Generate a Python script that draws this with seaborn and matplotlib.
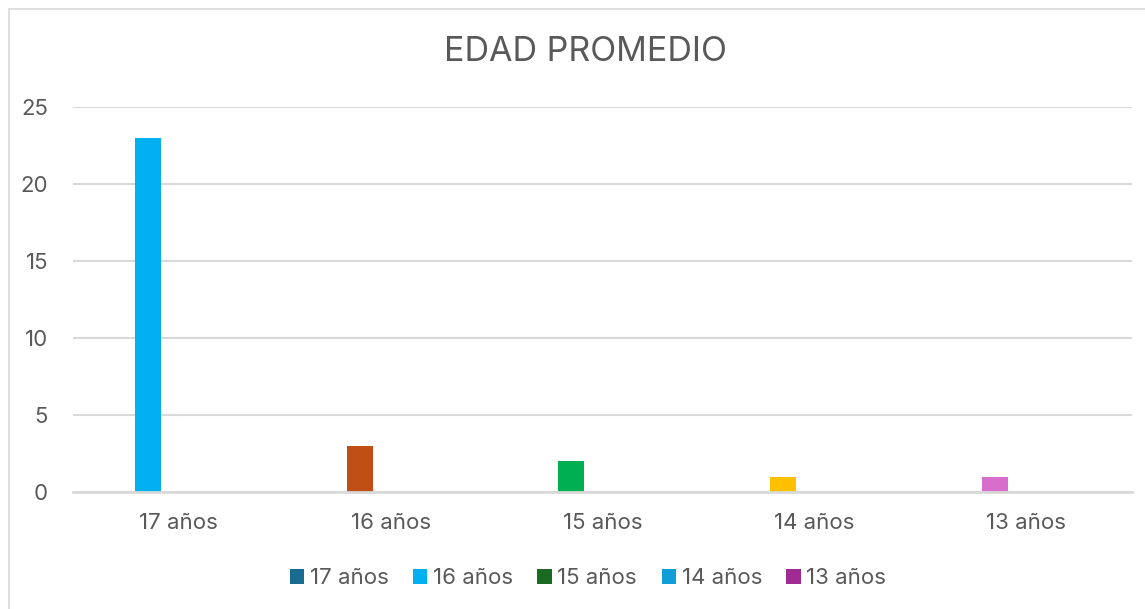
import numpy as np
import seaborn as sns
import matplotlib.pyplot as plt
from matplotlib.patches import Patch, Rectangle

# data
categories = ['17 años', '16 años', '15 años', '14 años', '13 años']
values = [23, 3, 2, 1, 1]
bar_colors = ['#00B0F0', '#C04F15', '#00B050', '#FFC000', '#D86ECC']
legend_labels = ['17 años', '16 años', '15 años', '14 años', '13 años']
legend_colors = ['#196B8F', '#00B0F0', '#196B24', '#0F9ED5', '#A02B93']
y_ticks = [0, 5, 10, 15, 20, 25]

text_color = '#595959'
grid_color = '#D9D9D9'

sns.set_style('white')
plt.rcParams['font.family'] = ['Inter', 'DejaVu Sans']

fig = plt.figure(figsize=(11.45, 6.09), dpi=100)
ax = fig.add_axes([73 / 1145, 1 - 492 / 609, (1132 - 73) / 1145, (492 - 107) / 609])

sns.barplot(x=categories, y=values, hue=categories, palette=bar_colors,
            width=0.123, legend=False, ax=ax, saturation=1, linewidth=0)
# Excel puts the bar left of the category centre
for p in ax.patches:
    p.set_x(p.get_x() - 0.147)

ax.set_ylim(0, 25)
ax.set_xlim(-0.5, len(categories) - 0.5)
ax.set_yticks(y_ticks)
ax.yaxis.grid(True, color=grid_color, linewidth=1.5)
ax.set_axisbelow(True)
for side in ['top', 'right', 'left']:
    ax.spines[side].set_visible(False)
ax.spines['bottom'].set_color(grid_color)
ax.spines['bottom'].set_linewidth(2)
ax.tick_params(axis='y', length=0, pad=18, labelsize=16, labelcolor=text_color)
ax.tick_params(axis='x', length=0, pad=15, labelsize=16, labelcolor=text_color)
ax.set_xlabel('')
ax.set_ylabel('')

fig.text(585 / 1145, 1 - 52 / 609, 'EDAD PROMEDIO', ha='center', va='center',
         fontsize=24.5, color=text_color)

handles = [Patch(facecolor=c, edgecolor='none') for c in legend_colors]
fig.legend(handles, legend_labels, loc='center', bbox_to_anchor=(588 / 1145, 1 - 578 / 609),
           ncol=5, frameon=False, fontsize=16, labelcolor=text_color,
           handlelength=0.65, handleheight=0.65, handletextpad=0.25, columnspacing=1.1)

# chart frame
fig.patches.append(Rectangle((9 / 1145, -0.1), 1.2, 1 - 9 / 609 + 0.1, transform=fig.transFigure,
                             fill=False, edgecolor=grid_color, linewidth=1.2))

fig.savefig('out.png', dpi=100)
